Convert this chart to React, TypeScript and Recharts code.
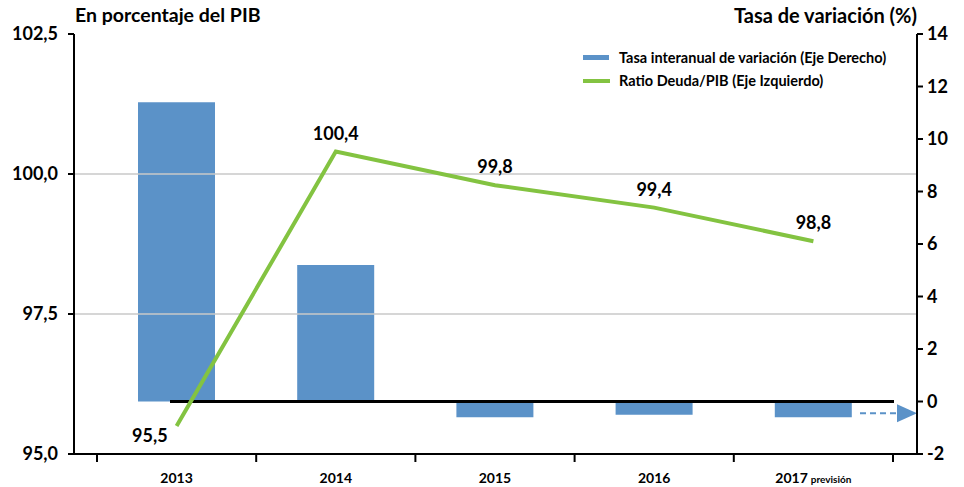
import React from 'react';
import {
  ComposedChart,
  Bar,
  Line,
  XAxis,
  YAxis,
  ReferenceLine,
  LabelList
} from 'recharts';

const years = ['2013', '2014', '2015', '2016', '2017'];
const tasaVariacion = [11.4, 5.2, -0.6, -0.5, -0.6];
const ratioDeuda = [95.5, 100.4, 99.8, 99.4, 98.8];
const leftTicks = [95, 97.5, 100, 102.5];
const rightTicks = [-2, 0, 2, 4, 6, 8, 10, 12, 14];
const gridValues = [97.5, 100];

const data = years.map((year, i) => ({
  year,
  tasa: tasaVariacion[i],
  ratio: ratioDeuda[i]
}));

const FONT = 'Lato, "Open Sans", sans-serif';
const BLUE = '#5b92c8';
const GREEN = '#83c341';

const fmtLeft = (v: number) => v.toFixed(1).replace('.', ',');

function XTick(props: any) {
  const { x, y, payload, index } = props;
  const half = payload && payload.offset ? payload.offset : 79.6;
  const axisY = y - 8;
  return (
    <g>
      <line x1={x - half} y1={axisY} x2={x - half} y2={axisY + 8} stroke="#000" strokeWidth={2} />
      {index === years.length - 1 && (
        <line x1={x + half} y1={axisY} x2={x + half} y2={axisY + 8} stroke="#000" strokeWidth={2} />
      )}
      <text x={x} y={axisY + 29} textAnchor="middle" fontFamily={FONT} fontWeight={700} fontSize={14} fill="#000">
        <tspan>{payload.value}</tspan>
        {payload.value === '2017' && <tspan fontSize={10} dx={3}>previsión</tspan>}
      </text>
    </g>
  );
}

function RatioLabel(props: any) {
  const { x, y, value, index } = props;
  const text = fmtLeft(value);
  if (index === 0) {
    return (
      <text x={x - 9} y={y + 16} textAnchor="end" fontFamily={FONT} fontWeight={700} fontSize={18} fill="#000">
        {text}
      </text>
    );
  }
  return (
    <text x={x} y={y - 12} textAnchor="middle" fontFamily={FONT} fontWeight={700} fontSize={18} fill="#000">
      {text}
    </text>
  );
}

function LegendBox() {
  const row = { display: 'flex', alignItems: 'center', height: 23 } as const;
  return (
    <div style={{ position: 'absolute', left: 583, top: 46, fontFamily: FONT, fontWeight: 700, fontSize: 14.5, color: '#000', whiteSpace: 'nowrap' }}>
      <div style={row}>
        <div style={{ width: 26, height: 5, background: BLUE, marginRight: 10 }} />
        Tasa interanual de variación (Eje Derecho)
      </div>
      <div style={row}>
        <div style={{ width: 27, height: 4, background: GREEN, marginRight: 9 }} />
        Ratio Deuda/PIB (Eje Izquierdo)
      </div>
    </div>
  );
}

function ZeroLine(props: any) {
  const left = Math.min(props.x1, props.x2);
  const right = Math.max(props.x1, props.x2);
  const y = props.y1;
  return <line x1={left + 96} y1={y} x2={right - 23} y2={y} stroke="#000" strokeWidth={3} />;
}

function DashedArrow(props: any) {
  const right = Math.max(props.x1, props.x2);
  const y = props.y1;
  return (
    <g>
      <line x1={right - 57} y1={y} x2={right - 20} y2={y} stroke={BLUE} strokeWidth={2} strokeDasharray="6 4" />
      <polygon points={`${right - 20},${y - 9} ${right},${y} ${right - 20},${y + 9}`} fill={BLUE} />
    </g>
  );
}

export default function App() {
  return (
    <div style={{ position: 'absolute', left: 0, top: 0, width: 964, height: 487, background: '#fff', fontFamily: FONT }}>
      <div style={{ position: 'absolute', left: 75, top: 3, fontSize: 19.5, fontWeight: 700 }}>
        En porcentaje del PIB
      </div>
      <div style={{ position: 'absolute', right: 47, top: 3, fontSize: 20, fontWeight: 700 }}>
        Tasa de variación (%)
      </div>
      <LegendBox />
      <ComposedChart
        width={964}
        height={487}
        data={data}
        margin={{ top: 34, right: 7, bottom: 8, left: 8 }}
        style={{ position: 'absolute', left: 0, top: 0 }}
      >
        <XAxis
          dataKey="year"
          padding={{ left: 23, right: 24 }}
          axisLine={{ stroke: '#000', strokeWidth: 2 }}
          tickLine={false}
          tickSize={8}
          tickMargin={0}
          height={25}
          interval={0}
          tick={<XTick />}
        />
        <YAxis
          yAxisId="left"
          domain={[95, 102.5]}
          ticks={leftTicks}
          width={66}
          tickFormatter={fmtLeft}
          axisLine={{ stroke: '#000', strokeWidth: 2 }}
          tickLine={{ stroke: '#000', strokeWidth: 2 }}
          tickSize={6}
          tickMargin={10}
          tick={{ fill: '#000', fontFamily: FONT, fontWeight: 700, fontSize: 18 }}
        />
        <YAxis
          yAxisId="right"
          orientation="right"
          domain={[-2, 14]}
          ticks={rightTicks}
          width={40}
          axisLine={{ stroke: '#000', strokeWidth: 2 }}
          tickLine={{ stroke: '#000', strokeWidth: 2 }}
          tickSize={6}
          tickMargin={4}
          tick={{ fill: '#000', fontFamily: FONT, fontWeight: 700, fontSize: 18, textAnchor: 'start' }}
        />
        {gridValues.map((v) => (
          <ReferenceLine key={v} yAxisId="left" y={v} stroke="#c8c8c8" strokeWidth={1.5} />
        ))}
        <Bar yAxisId="right" dataKey="tasa" fill={BLUE} barSize={77} isAnimationActive={false} />
        <ReferenceLine yAxisId="right" y={0} shape={<ZeroLine />} />
        <ReferenceLine yAxisId="right" y={-0.45} shape={<DashedArrow />} />
        <Line
          yAxisId="left"
          dataKey="ratio"
          type="linear"
          stroke={GREEN}
          strokeWidth={4}
          dot={false}
          activeDot={false}
          isAnimationActive={false}
        >
          <LabelList dataKey="ratio" content={<RatioLabel />} />
        </Line>
      </ComposedChart>
    </div>
  );
}
